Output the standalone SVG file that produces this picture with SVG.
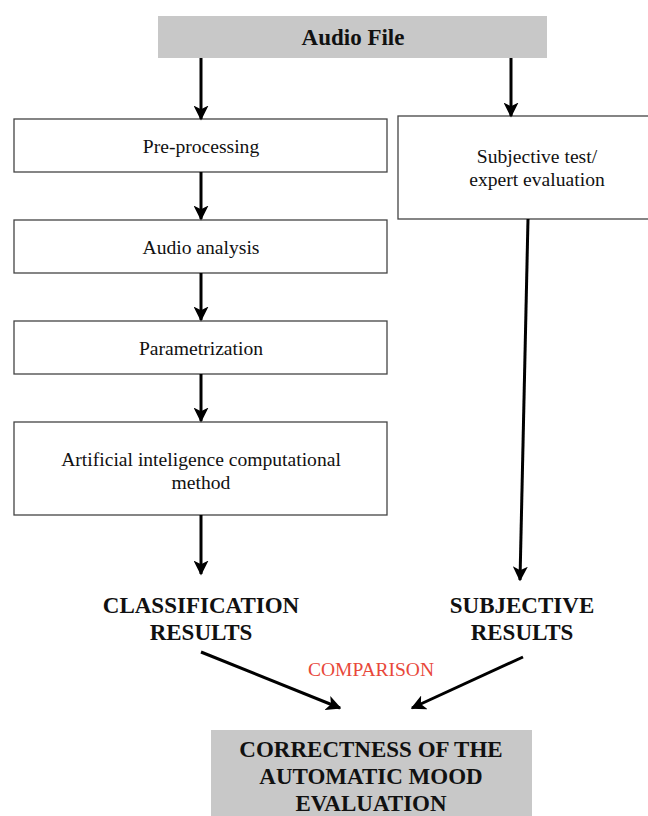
<svg xmlns="http://www.w3.org/2000/svg" width="648" height="816" viewBox="0 0 648 816">
  <style>
    .box { fill: #ffffff; stroke: #444444; stroke-width: 1.3; }
    .grey { fill: #c8c8c8; stroke: none; }
    .lbl { font-family: "Liberation Serif", "Times New Roman", serif; font-size: 19.6px; fill: #111111; text-anchor: middle; }
    .bold { font-family: "Liberation Serif", "Times New Roman", serif; font-size: 23px; font-weight: bold; fill: #111111; text-anchor: middle; }
    .red { font-family: "Liberation Serif", "Times New Roman", serif; font-size: 19.5px; fill: #e8483a; text-anchor: middle; }
    .wire { stroke: #000000; stroke-width: 3; fill: none; marker-end: url(#head); }
  </style>
  <defs>
    <marker id="head" viewBox="0 0 10 10" refX="9" refY="5" markerWidth="5" markerHeight="5" orient="auto" markerUnits="strokeWidth">
      <path d="M0,0 L10,5 L0,10 L2.5,5 z" fill="#000000"/>
    </marker>
  </defs>

  <g id="audio-file">
    <rect class="grey" x="158" y="16" width="389" height="42"/>
    <text class="bold" x="353" y="45" font-size="21.5">Audio File</text>
  </g>

  <g id="pre-processing">
    <rect class="box" x="14" y="119" width="373" height="53"/>
    <text class="lbl" x="201" y="153">Pre-processing</text>
  </g>

  <g id="audio-analysis">
    <rect class="box" x="14" y="220" width="373" height="53"/>
    <text class="lbl" x="201" y="254">Audio analysis</text>
  </g>

  <g id="parametrization">
    <rect class="box" x="14" y="321" width="373" height="53"/>
    <text class="lbl" x="201" y="355">Parametrization</text>
  </g>

  <g id="ai-method">
    <rect class="box" x="14" y="422" width="373" height="93"/>
    <text class="lbl" x="201" y="466">Artificial inteligence computational</text>
    <text class="lbl" x="201" y="489">method</text>
  </g>

  <g id="subjective-test">
    <rect class="box" x="398" y="116" width="260" height="103"/>
    <text class="lbl" x="537" y="163">Subjective test/</text>
    <text class="lbl" x="537" y="186">expert evaluation</text>
  </g>

  <g id="classification-results">
    <text class="bold" x="201" y="613">CLASSIFICATION</text>
    <text class="bold" x="201" y="640">RESULTS</text>
  </g>

  <g id="subjective-results">
    <text class="bold" x="522" y="613">SUBJECTIVE</text>
    <text class="bold" x="522" y="640">RESULTS</text>
  </g>

  <g id="comparison">
    <text class="red" x="371" y="676">COMPARISON</text>
  </g>

  <g id="correctness">
    <rect class="grey" x="211" y="730" width="321" height="86"/>
    <text class="bold" x="371" y="757">CORRECTNESS OF THE</text>
    <text class="bold" x="371" y="784">AUTOMATIC MOOD</text>
    <text class="bold" x="371" y="811">EVALUATION</text>
  </g>

  <g id="connectors">
    <line class="wire" x1="201" y1="58" x2="201" y2="119"/>
    <line class="wire" x1="511" y1="58" x2="511" y2="116"/>
    <line class="wire" x1="201" y1="172" x2="201" y2="219"/>
    <line class="wire" x1="201" y1="273" x2="201" y2="320"/>
    <line class="wire" x1="201" y1="374" x2="201" y2="421"/>
    <line class="wire" x1="201" y1="515" x2="201" y2="574"/>
    <line class="wire" x1="528" y1="219" x2="520" y2="580"/>
    <line class="wire" x1="201" y1="652" x2="340" y2="708"/>
    <line class="wire" x1="523" y1="657" x2="412" y2="708"/>
  </g>
</svg>
